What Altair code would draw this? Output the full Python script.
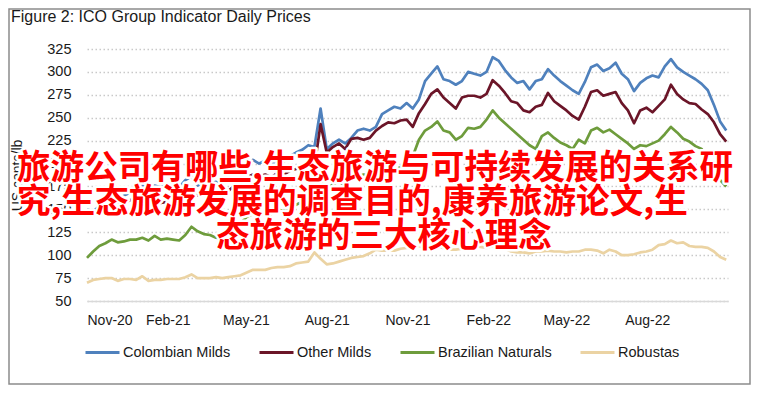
import altair as alt
import pandas as pd

# ---------------- data (weekly readings, US cents/lb) ----------------
start_date = "2020-11-01"
n_weeks = 105

colombian_milds = [
    150, 148, 153, 155, 160, 162, 165, 168, 173, 176, 172, 176, 174, 177, 175, 174,
    182, 186, 176, 180, 178, 180, 177, 182, 190, 193, 198, 204, 200, 203, 198, 205,
    202, 208, 212, 215, 220, 218, 260, 216, 222, 226, 222, 228, 236, 238, 236, 240,
    254, 258, 262, 260, 266, 260, 270, 290, 298, 306, 292, 290, 286, 290, 300, 298,
    296, 300, 316, 312, 302, 294, 288, 290, 281, 290, 292, 303, 296, 290, 285, 280,
    276, 289, 305, 308, 301, 304, 310, 298, 292, 279, 288, 293, 296, 294, 306, 314,
    305, 300, 296, 292, 287, 280, 264, 246, 236,
]
other_milds = [
    146, 144, 150, 152, 155, 158, 157, 160, 161, 160, 158, 160, 157, 158, 156, 160,
    170, 167, 165, 165, 164, 166, 168, 170, 176, 180, 185, 188, 186, 188, 185, 190,
    188, 192, 194, 196, 198, 196, 243, 212, 218, 222, 216, 227, 228, 226, 228, 236,
    241, 245, 244, 247, 248, 240, 255, 265, 276, 281, 272, 266, 260, 272, 274, 274,
    272, 276, 291, 285, 277, 268, 266, 258, 256, 262, 264, 277, 268, 263, 258, 252,
    248, 262, 278, 280, 274, 276, 278, 266, 258, 244, 258, 261, 256, 263, 270, 286,
    276, 270, 266, 265, 259, 254, 245, 232, 224,
]
brazilian_naturals = [
    97, 104, 110, 113, 117, 114, 115, 117, 117, 119, 116, 121, 117, 118, 117, 116,
    122, 131, 126, 123, 122, 119, 118, 120, 125, 135, 142, 145, 143, 147, 145, 150,
    148, 152, 155, 158, 160, 162, 182, 170, 178, 180, 176, 183, 186, 188, 187, 190,
    194, 196, 193, 196, 200, 208, 226, 236, 240, 246, 236, 234, 226, 230, 239, 238,
    240, 248, 258, 250, 244, 238, 232, 226, 220, 216, 230, 234, 228, 223, 220, 216,
    226, 222, 236, 239, 234, 237, 232, 227, 222, 216, 220, 219, 222, 225, 232, 240,
    234, 227, 224, 219, 216, 205, 195, 182, 175,
]
robustas = [
    70, 73, 74, 75, 75, 72, 74, 74, 73, 77, 72, 73, 73, 74, 74, 74,
    76, 79, 75, 75, 75, 76, 75, 76, 77, 78, 81, 84, 84, 84, 86, 87,
    87, 88, 91, 92, 93, 103, 96, 90, 91, 93, 95, 97, 98, 99, 102, 106,
    105, 105, 105, 107, 108, 109, 110, 108, 107, 109, 108, 106, 106, 107, 108, 110,
    109, 108, 110, 109, 107, 104, 103, 103, 102, 104, 104, 105, 104, 104, 103, 104,
    104, 106, 106, 105, 102, 106, 104, 100, 100, 101, 103, 104, 106, 111, 112, 116,
    113, 114, 110, 109, 109, 108, 104, 98, 95,
]

series_names = ["Colombian Milds", "Other Milds", "Brazilian Naturals", "Robustas"]
series_colors = ["#4F81BD", "#6B1528", "#6E9C3C", "#EBD3A3"]
x_tick_months = [(2020, 11), (2021, 2), (2021, 5), (2021, 8),
                 (2021, 11), (2022, 2), (2022, 5), (2022, 8)]
y_ticks = [50, 75, 100, 125, 150, 175, 200, 225, 250, 275, 300, 325]

title_text = "Figure 2: ICO Group Indicator Daily Prices"
y_title = "US cents/lb"
overlay_lines = [
    "旅游公司有哪些,生态旅游与可持续发展的关系研",
    "究,生态旅游发展的调查目的,康养旅游论文,生",
    "态旅游的三大核心理念",
]

# ---------------- build table ----------------
dates = pd.date_range(start_date, periods=n_weeks, freq="7D").strftime("%Y-%m-%dT00:00:00")
frames = []
for name, vals in zip(series_names, [colombian_milds, other_milds, brazilian_naturals, robustas]):
    frames.append(pd.DataFrame({"date": dates, "value": vals, "series": name}))
df = pd.concat(frames, ignore_index=True)

W, H = 641, 252
PAD = {"left": 79, "top": 41, "right": 23, "bottom": 84}
FONT = "Liberation Sans"

x_enc = alt.X(
    "date:T",
    scale=alt.Scale(domain=[alt.DateTime(year=2020, month=11, date=1),
                            alt.DateTime(year=2022, month=11, date=1)]),
    axis=alt.Axis(
        title=None,
        values=[alt.DateTime(year=y, month=m, date=1) for y, m in x_tick_months],
        format="%b-%y",
        grid=False,
        ticks=False,
        tickSize=0,
        labelPadding=12,
        labelFontSize=14,
        labelColor="#1a1a1a",
        domainColor="#D9D9D9",
        domainWidth=1.5,
    ),
)
y_enc = alt.Y(
    "value:Q",
    scale=alt.Scale(domain=[50, 325], nice=False, zero=False),
    axis=alt.Axis(
        title=y_title,
        values=y_ticks,
        grid=True,
        gridColor="#C9C9C9",
        gridDash=[1.5, 2.5],
        gridWidth=1.5,
        domain=False,
        ticks=False,
        tickSize=0,
        labelPadding=16,
        labelFontSize=14.5,
        labelColor="#1a1a1a",
        titleX=-70,
        titleY=126,
        titleAngle=270,
        titleAlign="center",
        titleBaseline="middle",
        titleFontSize=14,
        titleFontWeight="normal",
        titleColor="#1a1a1a",
    ),
)

lines = alt.Chart(df).mark_line(strokeWidth=2.7, strokeJoin="round").encode(
    x=x_enc,
    y=y_enc,
    color=alt.Color(
        "series:N",
        scale=alt.Scale(domain=series_names, range=series_colors),
        legend=alt.Legend(
            title=None,
            orient="none",
            legendX=-3,
            legendY=285,
            direction="horizontal",
            symbolType="stroke",
            symbolSize=1156,
            symbolStrokeWidth=3,
            labelFontSize=14.5,
            labelColor="#1a1a1a",
            labelOffset=2,
            columnPadding=22,
        ),
    ),
    order=alt.value(0),
)

one = pd.DataFrame({"k": [0]})

frame = alt.Chart(one).mark_rect(fillOpacity=0, stroke="#8C8C8C", strokeWidth=1.5).encode(
    x=alt.value(-PAD["left"] + 1), x2=alt.value(W + PAD["right"] - 1),
    y=alt.value(-PAD["top"] + 1), y2=alt.value(H + PAD["bottom"] - 1),
)

title = alt.Chart(one).mark_text(
    align="left", baseline="middle", fontSize=16, font=FONT, color="#1a1a1a"
).encode(x=alt.value(-76), y=alt.value(-32), text=alt.value(title_text))

overlay_pos = [(-70, 120), (-70, 154), (129, 188)]
OV_SIZE = 33.6
overlay = []
for txt, (ox, oy) in zip(overlay_lines, overlay_pos):
    overlay.append(
        alt.Chart(one).mark_text(fill="white", stroke="white", strokeWidth=5,
                                 strokeJoin="round", align="left", baseline="middle",
                                 fontSize=OV_SIZE, font="Noto Sans CJK SC", fontWeight="bold")
        .encode(x=alt.value(ox), y=alt.value(oy), text=alt.value(txt))
    )
for txt, (ox, oy) in zip(overlay_lines, overlay_pos):
    overlay.append(
        alt.Chart(one).mark_text(fill="#FF0000", align="left", baseline="middle",
                                 fontSize=OV_SIZE, font="Noto Sans CJK SC", fontWeight="bold")
        .encode(x=alt.value(ox), y=alt.value(oy), text=alt.value(txt))
    )

chart = alt.layer(lines, frame, title, *overlay).properties(
    width=W,
    height=H,
    autosize=alt.AutoSizeParams(type="none"),
    padding=PAD,
).configure(font=FONT, background="white").configure_view(stroke=None)

chart.save("out.html", embed_options={"renderer": "svg", "actions": False})
